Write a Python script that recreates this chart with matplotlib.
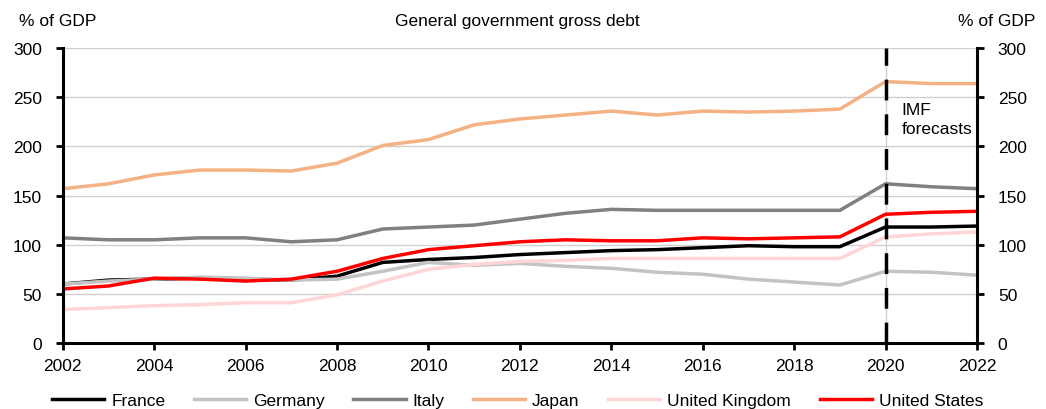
import numpy as np
import matplotlib
matplotlib.use("Agg")
import matplotlib.pyplot as plt

plt.rcParams['font.family'] = ['Liberation Sans', 'DejaVu Sans']
plt.rcParams['font.size'] = 12

# data (% of GDP)
years = list(range(2002, 2023))
france = [60, 64, 65, 66, 65, 64, 68, 82, 85, 87, 90, 92, 94, 95, 97, 99, 98, 98, 118, 118, 119]
germany = [60, 63, 65, 67, 66, 64, 65, 73, 82, 79, 81, 78, 76, 72, 70, 65, 62, 59, 73, 72, 69]
italy = [107, 105, 105, 107, 107, 103, 105, 116, 118, 120, 126, 132, 136, 135, 135, 135, 135, 135, 162, 159, 157]
japan = [157, 162, 171, 176, 176, 175, 183, 201, 207, 222, 228, 232, 236, 232, 236, 235, 236, 238, 266, 264, 264]
uk = [34, 36, 38, 39, 41, 41, 49, 63, 75, 80, 83, 84, 86, 86, 86, 86, 86, 86, 108, 111, 113]
us = [55, 58, 66, 65, 63, 65, 73, 86, 95, 99, 103, 105, 104, 104, 107, 106, 107, 108, 131, 133, 134]

series = [
    ("France", france, "black"),
    ("Germany", germany, "#c3c3c3"),
    ("Italy", italy, "#808080"),
    ("Japan", japan, "#f4b183"),
    ("United Kingdom", uk, "#ffd5d5"),
    ("United States", us, "#ff0000"),
]
forecast_year = 2020

fig = plt.figure(figsize=(10.46, 4.10), dpi=100)
ax = fig.add_axes([0.060, 0.161, 0.874, 0.719])

for y in [50, 100, 150, 200, 250, 300]:
    ax.axhline(y, color="#d0d0d0", lw=1, zorder=0)
ax.axvline(forecast_year, color="#d0d0d0", lw=1, zorder=0)

for name, vals, col in series:
    ax.plot(years, vals, color=col, lw=2.5, label=name, zorder=2)

ax.plot([forecast_year, forecast_year], [0, 300], color="black", lw=2.5,
        dashes=(6, 4), zorder=3)
ax.text(2020.35, 245, "IMF\nforecasts", ha="left", va="top", fontsize=12.5, linespacing=1.3)

ax.set_xlim(2002, 2022)
ax.set_ylim(0, 300)
ax.set_xticks(range(2002, 2023, 2))
ax.set_yticks(range(0, 301, 50))

ax.spines["top"].set_visible(False)
for s in ["left", "right", "bottom"]:
    ax.spines[s].set_linewidth(2.2)
ax.tick_params(axis="both", direction="out", width=2, length=5, labelsize=12.5)
ax.tick_params(axis="y", which="both", right=True, labelright=True, pad=10)
ax.tick_params(axis="x", pad=6)

fig.text(0.018, 0.93, "% of GDP", fontsize=12.5, ha="left", va="bottom")
fig.text(0.99, 0.93, "% of GDP", fontsize=12.5, ha="right", va="bottom")
fig.text(0.495, 0.93, "General government gross debt", fontsize=12.5, ha="center", va="bottom")

fig.legend(loc="lower center", bbox_to_anchor=(0.495, -0.035), ncol=6, frameon=False,
           handlelength=3.0, columnspacing=1.65, handletextpad=0.4, fontsize=12.5)

fig.savefig("out.png", dpi=100)
